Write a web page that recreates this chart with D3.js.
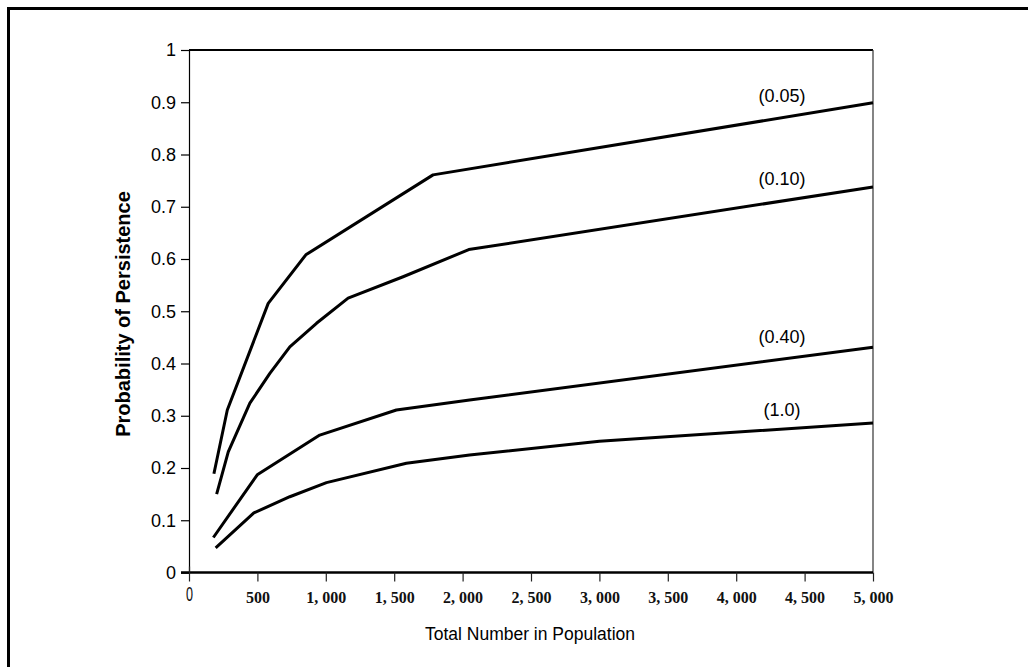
<!DOCTYPE html>
<html>
<head>
<meta charset="utf-8">
<script src="https://cdn.jsdelivr.net/npm/d3@7"></script>
<style>
  html, body { margin: 0; padding: 0; background: #fff; }
  svg { display: block; }
</style>
</head>
<body>
<svg id="chart" width="1028" height="667"></svg>
<script>
// ---- Data ----
const seriesNames = ["(0.05)", "(0.10)", "(0.40)", "(1.0)"];
const x005 = [182, 280, 579, 854, 1784, 5000];
const y005 = [0.189, 0.311, 0.515, 0.608, 0.761, 0.899];
const x010 = [202, 287, 445, 591, 737, 932, 1163, 1565, 2045, 5000];
const y010 = [0.150, 0.231, 0.324, 0.381, 0.432, 0.477, 0.525, 0.566, 0.618, 0.738];
const x040 = [178, 499, 956, 1516, 2051, 5000];
const y040 = [0.067, 0.187, 0.263, 0.311, 0.330, 0.431];
const x100 = [195, 474, 737, 1005, 1589, 2051, 3000, 5000];
const y100 = [0.047, 0.114, 0.145, 0.172, 0.209, 0.225, 0.251, 0.286];
const xTicks = [0, 500, 1000, 1500, 2000, 2500, 3000, 3500, 4000, 4500, 5000];
const xTickLabels = ["0", "500", "1, 000", "1, 500", "2, 000", "2, 500", "3, 000", "3, 500", "4, 000", "4, 500", "5, 000"];
const yTicks = [0, 0.1, 0.2, 0.3, 0.4, 0.5, 0.6, 0.7, 0.8, 0.9, 1];
const yTickLabels = ["0", "0.1", "0.2", "0.3", "0.4", "0.5", "0.6", "0.7", "0.8", "0.9", "1"];
const xTitle = "Total Number in Population";
const yTitle = "Probability of Persistence";

const series = [
  { name: seriesNames[0], xs: x005, ys: y005 },
  { name: seriesNames[1], xs: x010, ys: y010 },
  { name: seriesNames[2], xs: x040, ys: y040 },
  { name: seriesNames[3], xs: x100, ys: y100 }
];

// ---- Layout ----
const svg = d3.select("#chart");
const L = 189, R = 873, T = 50, B = 572.5;
const x = d3.scaleLinear().domain([0, 5000]).range([L, R]);
const y = d3.scaleLinear().domain([0, 1]).range([B, T]);

// outer frame (top and left only)
svg.append("line").attr("x1", 7).attr("x2", 1028).attr("y1", 8.5).attr("y2", 8.5)
  .attr("stroke", "#000").attr("stroke-width", 3);
svg.append("line").attr("x1", 8.5).attr("x2", 8.5).attr("y1", 7).attr("y2", 667)
  .attr("stroke", "#000").attr("stroke-width", 3);

// plot frame
svg.append("line").attr("x1", L).attr("x2", R).attr("y1", T).attr("y2", T)
  .attr("stroke", "#000").attr("stroke-width", 2);
svg.append("line").attr("x1", R).attr("x2", R).attr("y1", T).attr("y2", B)
  .attr("stroke", "#333").attr("stroke-width", 1.2);

// Y axis
const yAxis = d3.axisLeft(y).tickValues(yTicks).tickSize(8).tickPadding(5)
  .tickFormat((d, i) => yTickLabels[i]);
const gy = svg.append("g").attr("transform", `translate(${L},0)`).call(yAxis);
gy.select(".domain").attr("stroke", "#000").attr("stroke-width", 1.2);
gy.selectAll(".tick line").attr("stroke", "#000").attr("stroke-width", 1.2);
gy.selectAll(".tick text").attr("font-family", "'Liberation Sans', Arial, sans-serif")
  .attr("font-size", 18).attr("fill", "#000");

// X axis
const xAxis = d3.axisBottom(x).tickValues(xTicks).tickSize(9).tickPadding(10)
  .tickFormat((d, i) => xTickLabels[i]);
const gx = svg.append("g").attr("transform", `translate(0,${B})`).call(xAxis);
gx.select(".domain").attr("stroke", "#000").attr("stroke-width", 2.5)
  .attr("d", `M${L - 8},0H${R}`);
gx.selectAll(".tick line").attr("stroke", "#222").attr("stroke-width", 1.2);
gx.selectAll(".tick").filter(d => d === 0).select("line").attr("y1", -6);
gx.selectAll(".tick text").attr("font-family", "'Liberation Serif', 'Times New Roman', serif")
  .attr("font-size", 16).attr("font-weight", "bold").attr("fill", "#111");
gx.selectAll(".tick").filter(d => d === 0).select("text")
  .attr("font-family", "'Liberation Sans', Arial, sans-serif").attr("font-weight", "normal")
  .attr("font-size", 18).attr("transform", "scale(0.7,1.1)").attr("dy", "0.4em");

// lines
const line = d3.line().x(d => x(d[0])).y(d => y(d[1]));
svg.append("g").selectAll("path").data(series).join("path")
  .attr("d", s => line(s.xs.map((v, i) => [v, s.ys[i]])))
  .attr("fill", "none").attr("stroke", "#000").attr("stroke-width", 3)
  .attr("stroke-linejoin", "round").attr("stroke-linecap", "butt");

// series labels
const labelY = [96, 179, 337, 410];
svg.append("g").selectAll("text").data(series).join("text")
  .attr("transform", (s, i) => `translate(782,${labelY[i]})`)
  .attr("text-anchor", "middle").attr("dy", "0.35em")
  .attr("font-family", "'Liberation Sans', Arial, sans-serif").attr("font-size", 18)
  .attr("fill", "#000").text(s => s.name);

// axis titles
svg.append("text").attr("transform", "translate(530,634)")
  .attr("text-anchor", "middle").attr("dy", "0.35em")
  .attr("font-family", "'Liberation Sans', Arial, sans-serif").attr("font-size", 17.5)
  .attr("fill", "#000").text(xTitle);
svg.append("text").attr("transform", "translate(123,314) rotate(-90)")
  .attr("text-anchor", "middle").attr("dy", "0.35em")
  .attr("font-family", "'Liberation Sans', Arial, sans-serif").attr("font-size", 20)
  .attr("font-weight", "bold").attr("fill", "#000").text(yTitle);
</script>
</body>
</html>
